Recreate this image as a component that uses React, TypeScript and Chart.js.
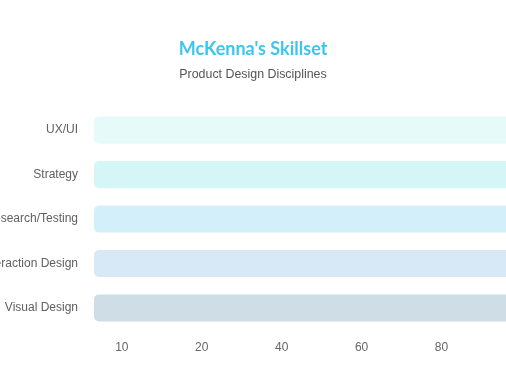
import React, { useEffect, useRef } from "react";
import { Chart, registerables } from "chart.js";

Chart.register(...registerables);

const SKILLS = ["UX/UI", "Strategy", "Research/Testing", "Interaction Design", "Visual Design"];
const SKILL_VALUES = [100, 100, 100, 100, 100];
const X_TICK_LABELS = ["10", "20", "40", "60", "80"];
const BAR_COLORS = ["#e6fafa", "#d5f6f7", "#d3eff9", "#d7e8f6", "#cfdde6"];

const CANVAS_LEFT = -31;
const CANVAS_W = 568;
const CANVAS_H = 380;
const Y_AXIS_W = 125;
const X_TICK_OFFSET = 6.28;
const X_TICK_STEP = 18.04;

export default function App() {
  const ref = useRef<HTMLCanvasElement | null>(null);

  useEffect(() => {
    if (!ref.current) return;
    const chart = new Chart(ref.current, {
      type: "bar",
      data: {
        labels: SKILLS,
        datasets: [
          {
            data: SKILL_VALUES,
            backgroundColor: BAR_COLORS,
            borderRadius: 5,
            borderSkipped: false,
            barPercentage: 0.61,
            categoryPercentage: 1,
          },
        ],
      },
      options: {
        indexAxis: "y",
        responsive: false,
        animation: false,
        layout: { padding: { top: 0, bottom: 14.8, left: 0, right: 0 } },
        plugins: {
          legend: { display: false },
          tooltip: { enabled: false },
          title: {
            display: true,
            text: "McKenna's Skillset",
            color: "#3cc6ef",
            font: { family: "Lato", size: 18, weight: "bold", lineHeight: 1.2 },
            padding: { top: 38.2, bottom: 3.5 },
          },
          subtitle: {
            display: true,
            text: "Product Design Disciplines",
            color: "#555555",
            font: { family: "Liberation Sans", size: 12.4, lineHeight: 1.2 },
            padding: { top: 3.5, bottom: 26.2 },
          },
        },
        scales: {
          x: {
            type: "linear",
            min: 0,
            max: 100,
            grid: { display: false, drawTicks: false },
            border: { display: false },
            afterBuildTicks: (scale: any) => {
              scale.ticks = X_TICK_LABELS.map((_, i) => ({ value: X_TICK_OFFSET + i * X_TICK_STEP }));
            },
            ticks: {
              padding: 10.3,
              color: "#666666",
              font: { family: "Liberation Sans", size: 12 },
              maxRotation: 0,
              autoSkip: false,
              callback: (_v: any, i: number) => X_TICK_LABELS[i],
            },
          },
          y: {
            grid: { display: false, drawTicks: false },
            border: { display: false },
            afterFit: (scale: any) => {
              scale.width = Y_AXIS_W;
            },
            ticks: {
              padding: 16,
              color: "#606060",
              font: { family: "Liberation Sans", size: 12 },
            },
          },
        },
      },
    });
    return () => chart.destroy();
  }, []);

  return (
    <div
      style={{
        position: "fixed",
        left: 0,
        top: 0,
        width: 506,
        height: 380,
        overflow: "hidden",
        background: "#ffffff",
      }}
    >
      <canvas
        ref={ref}
        width={CANVAS_W}
        height={CANVAS_H}
        style={{ position: "absolute", left: CANVAS_LEFT, top: 0, width: CANVAS_W, height: CANVAS_H }}
      />
    </div>
  );
}
